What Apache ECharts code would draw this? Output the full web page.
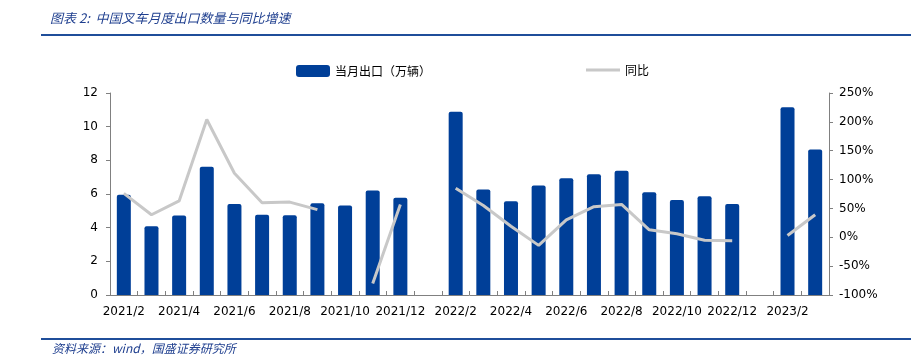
<!DOCTYPE html>
<html><head><meta charset="utf-8">
<script src="https://cdn.jsdelivr.net/npm/echarts@6/dist/echarts.min.js"></script>
<style>html,body{margin:0;padding:0;background:#fff}#c{width:911px;height:360px}</style>
</head><body><div id="c"></div>
<script>
const categories = ['2021/2','2021/3','2021/4','2021/5','2021/6','2021/7','2021/8','2021/9','2021/10','2021/11','2021/12','2022/1',
  '2022/2','2022/3','2022/4','2022/5','2022/6','2022/7','2022/8','2022/9','2022/10','2022/11','2022/12','2023/1','2023/2','2023/3'];
const exportVolume = [5.95,4.08,4.72,7.62,5.41,4.76,4.74,5.45,5.31,6.21,5.77,null,
  10.89,6.27,5.57,6.51,6.93,7.18,7.38,6.11,5.65,5.87,5.41,null,11.16,8.64];
const yoyPct = [76,39,63,204,111,60,61,48,null,-80,57,null,
  85,55,19,-14,30,53,57,13,6,-5,-6,null,3,39];
const leftTicks = [0,2,4,6,8,10,12];
const rightTicks = [-100,-50,0,50,100,150,200,250];
const seriesNames = ['当月出口（万辆）','同比'];

const chart = echarts.init(document.getElementById('c'));
const axisFont = {fontFamily:'DejaVu Sans', fontSize:12, color:'#000'};
const legendText = {fontFamily:'Noto Sans CJK SC', fontSize:12, color:'#000'};
chart.setOption({
  animation:false,
  textStyle:{fontFamily:'DejaVu Sans'},
  grid:{left:110,right:82,top:93,bottom:65,containLabel:false},
  legend:[{
    top:60, left:291, itemWidth:34, itemHeight:12,
    textStyle:legendText,
    data:[{name:seriesNames[0], icon:'roundRect'}]
  },{
    top:59, left:581, itemWidth:34, itemHeight:3,
    textStyle:legendText,
    data:[{name:seriesNames[1], icon:'rect'}]
  }],
  xAxis:{
    type:'category', data:categories, boundaryGap:true,
    axisLine:{lineStyle:{color:'#808080'}},
    axisTick:{show:true, inside:true, length:4, alignWithLabel:false, interval:0, lineStyle:{color:'#808080'}},
    axisLabel:Object.assign({interval:1, margin:11}, axisFont)
  },
  yAxis:[{
    type:'value', min:leftTicks[0], max:leftTicks[leftTicks.length-1], interval:2,
    splitLine:{show:false},
    axisLine:{show:true, lineStyle:{color:'#808080'}},
    axisTick:{show:true, length:4, lineStyle:{color:'#808080'}},
    axisLabel:Object.assign({margin:12}, axisFont)
  },{
    type:'value', min:rightTicks[0], max:rightTicks[rightTicks.length-1], interval:50,
    splitLine:{show:false},
    axisLine:{show:true, lineStyle:{color:'#808080'}},
    axisTick:{show:true, length:4, lineStyle:{color:'#808080'}},
    axisLabel:Object.assign({margin:10, formatter:v=>v+'%'}, axisFont)
  }],
  series:[{
    name:seriesNames[0], type:'bar', data:exportVolume, barWidth:14, yAxisIndex:0,
    itemStyle:{color:'#003F98', borderRadius:[2,2,0,0]}
  },{
    name:seriesNames[1], type:'line', data:yoyPct, yAxisIndex:1, connectNulls:false,
    symbol:'none', lineStyle:{color:'#C8C8C8', width:3}, itemStyle:{color:'#C8C8C8'}
  }],
  graphic:[
    {type:'text', left:50, top:12, style:{text:'图表 2:  中国叉车月度出口数量与同比增速', font:'italic 13px "Noto Sans CJK SC"', fill:'#1F3F8F'}},
    {type:'rect', shape:{x:41, y:34, width:870, height:2}, style:{fill:'#1F4E9A'}},
    {type:'rect', shape:{x:41, y:338, width:870, height:2}, style:{fill:'#1F4E9A'}},
    {type:'text', left:52, top:342, style:{text:'资料来源：wind，国盛证券研究所', font:'italic 12px "Noto Sans CJK SC"', fill:'#1F3F8F'}}
  ]
});
</script></body></html>
